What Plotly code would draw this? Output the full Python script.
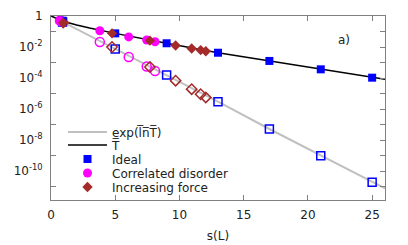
import plotly.graph_objects as go

# ---- data ----
line_s = [0, 1, 2, 3, 5, 7, 9, 13, 17, 21, 25, 26]
line_T = [1, 0.447, 0.263, 0.166, 0.0759, 0.0355, 0.0174, 0.00427, 0.00126, 3.63e-4, 1.05e-4, 8.32e-5]

gray_s = [0, 5, 9, 13, 17, 21, 25, 26]
gray_lnT = [1, 7.41e-3, 1.55e-4, 2.95e-6, 5.13e-8, 9.77e-10, 1.86e-11, 7.6e-12]

ideal_s = [0.9, 5, 9, 13, 17, 21, 25]
ideal_T = [0.50, 0.0759, 0.0174, 0.00427, 0.00126, 3.63e-4, 1.05e-4]
ideal_lnT = [0.407, 7.41e-3, 1.55e-4, 2.95e-6, 5.13e-8, 9.77e-10, 1.86e-11]

corr_s = [0.7, 3.8, 6.05, 7.45, 8.1]
corr_T = [0.479, 0.112, 0.0447, 0.0282, 0.0219]
corr_lnT = [0.501, 0.0209, 2.29e-3, 5.50e-4, 2.82e-4]

force_s = [0.95, 4.75, 7.7, 9.7, 10.95, 11.65, 12.05]
force_T = [0.372, 0.0759, 0.0257, 0.0126, 7.94e-3, 6.31e-3, 5.37e-3]
force_lnT = [0.380, 0.0100, 5.13e-4, 6.76e-5, 1.91e-5, 8.91e-6, 5.62e-6]

x_ticks = [0, 5, 10, 15, 20, 25]
y_tickvals = [1, 1e-2, 1e-4, 1e-6, 1e-8, 1e-10]
y_ticktext = ["1", "10<sup>-2</sup>", "10<sup>-4</sup>", "10<sup>-6</sup>", "10<sup>-8</sup>", "10<sup>-10</sup>"]
y_minor = [1e-1, 1e-3, 1e-5, 1e-7, 1e-9, 1e-11]

BLUE = "#0000ff"
MAG = "#ff00ff"
BROWN = "#a52a2a"
GRAY = "#c0c0c0"
AX = "#808080"
FONT = "DejaVu Sans"

fig = go.Figure()

fig.add_trace(go.Scatter(x=gray_s, y=gray_lnT, mode="lines", name="exp(l\u0305n\u0305T\u0305)",
                         line=dict(color=GRAY, width=2), legend="legend"))
fig.add_trace(go.Scatter(x=line_s, y=line_T, mode="lines", name="T\u0305",
                         line=dict(color="black", width=1.5), legend="legend2"))

# open markers (exp of mean ln T)
fig.add_trace(go.Scatter(x=ideal_s, y=ideal_lnT, mode="markers", showlegend=False,
                         marker=dict(symbol="square-open", size=8, color=BLUE, line=dict(width=1.5, color=BLUE))))
fig.add_trace(go.Scatter(x=corr_s, y=corr_lnT, mode="markers", showlegend=False,
                         marker=dict(symbol="circle-open", size=9, color=MAG, line=dict(width=1.5, color=MAG))))
fig.add_trace(go.Scatter(x=force_s, y=force_lnT, mode="markers", showlegend=False,
                         marker=dict(symbol="diamond-open", size=8, color=BROWN, line=dict(width=1.5, color=BROWN))))

# filled markers (mean T)
fig.add_trace(go.Scatter(x=ideal_s, y=ideal_T, mode="markers", name="Ideal", legend="legend3",
                         marker=dict(symbol="square", size=8, color=BLUE)))
fig.add_trace(go.Scatter(x=corr_s, y=corr_T, mode="markers", name="Correlated disorder", legend="legend4",
                         marker=dict(symbol="circle", size=9, color=MAG)))
fig.add_trace(go.Scatter(x=force_s, y=force_T, mode="markers", name="Increasing force", legend="legend5",
                         marker=dict(symbol="diamond", size=8, color=BROWN)))

# invisible trace to activate right-hand tick axis
fig.add_trace(go.Scatter(x=line_s[:1], y=line_T[:1], yaxis="y2", mode="markers", showlegend=False,
                         marker=dict(opacity=0), hoverinfo="skip"))

# the page body adds an 8px offset; plot area spans x 43..377, y 8..192 inside the figure
def leg(ypx):
    return dict(x=(12) / 334, y=(192 - ypx) / 184, xanchor="left", yanchor="middle",
                bgcolor="rgba(0,0,0,0)", font=dict(family=FONT, size=12, color="#222"),
                itemwidth=39, tracegroupgap=0)

fig.update_layout(
    width=400, height=237,
    margin=dict(l=43, r=23, t=8, b=45),
    paper_bgcolor="white", plot_bgcolor="white",
    font=dict(family=FONT, size=12, color="#222"),
    legend=leg(124), legend2=leg(137), legend3=leg(151), legend4=leg(165), legend5=leg(179),
    xaxis=dict(range=[0, 26], tickvals=x_ticks, ticks="inside", ticklen=5, tickcolor=AX,
               showline=True, linecolor=AX, linewidth=1, mirror="ticks", showgrid=False, zeroline=False,
               automargin=False, ticklabelstandoff=4,
               title=dict(text="s(L)", standoff=10, font=dict(size=12)), tickfont=dict(size=12)),
    yaxis=dict(type="log", range=[-11.87, 0], tickvals=y_tickvals, ticktext=y_ticktext, ticks="",
               showline=True, linecolor=AX, linewidth=1, showgrid=False, zeroline=False, automargin=False,
               minor=dict(tickvals=y_minor, ticks="inside", ticklen=5, tickcolor=AX, showgrid=False),
               tickfont=dict(size=12), ticklabelstandoff=5),
    yaxis2=dict(type="log", range=[-11.87, 0], overlaying="y", side="right", dtick=1, ticks="inside",
                ticklen=5, tickcolor=AX, showticklabels=False, showline=True, linecolor=AX, linewidth=1,
                showgrid=False, zeroline=False, automargin=False),
    annotations=[dict(text="a)", x=0.901, y=0.918, xref="paper", yref="paper", showarrow=False,
                      font=dict(size=12, color="#222"))],
)

fig.write_html("out.html")
